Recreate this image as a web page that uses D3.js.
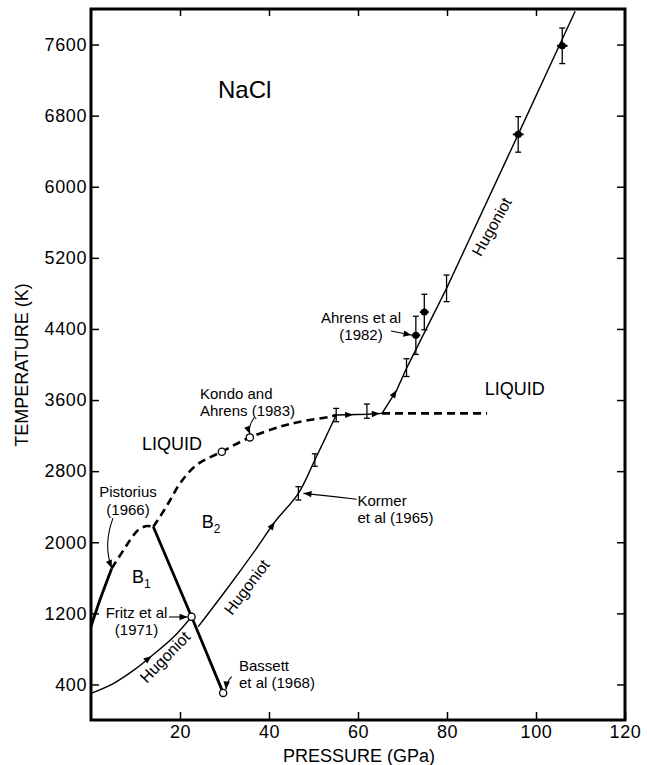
<!DOCTYPE html>
<html>
<head>
<meta charset="utf-8">
<script src="https://d3js.org/d3.v7.min.js"></script>
<style>
  body { margin: 0; background: #fff; }
  svg { display: block; font-family: 'Liberation Sans', Arial, sans-serif; }
</style>
</head>
<body>
<div id="chart"></div>
<script>
// NaCl phase diagram: pressure (GPa) vs temperature (K)

// melting curve of B1 (solid part up to Pistorius point, dashed beyond)
const meltB1 = [[0, 1050], [2, 1350], [4.65, 1706], [7.3, 1912], [8.8, 2025], [10.6, 2137], [12.5, 2182], [14, 2175]];
const meltB1SolidTo = 4.65;
// melting curve of B2 (dashed)
const meltB2 = [[14, 2175], [15.5, 2287], [17.8, 2475], [20, 2663], [23.7, 2869], [29.4, 3019], [35.7, 3180],
                [42.5, 3300], [47, 3356], [53.7, 3412], [55.1, 3431]];
const meltHigh = [[65.4, 3450], [89, 3450]];
// B1-B2 boundary
const phaseB1B2 = [[14, 2175], [22.6, 1162], [29.7, 305]];

// Hugoniot pieces
const hugB1 = [[0, 300], [5, 410], [10, 575], [13.6, 720], [18.5, 930], [22.6, 1162]];
const hugB2 = [[24.1, 1050], [31.2, 1519], [37.2, 1932], [41.3, 2228], [46.6, 2550], [50.3, 2925], [55.1, 3431]];
const hugMelt = [[55.1, 3431], [62, 3440], [65.4, 3450]];
const hugLiquid = [[65.4, 3450], [68.7, 3712], [70.9, 3957], [79.9, 4857], [96, 6589], [108.8, 7975]];
const hugArrows = [13.6, 41.3, 58.9, 64.9, 68.7];

// Kormer et al (1965) points with error bars
const kormerP = [46.6, 50.3, 55.1, 62, 70.9, 79.9];
const kormerT = [2550, 2925, 3431, 3475, 3965, 4857];
const kormerErr = [75, 70, 75, 80, 100, 150];

// Ahrens et al (1982)
const ahrensP = [73.0, 74.9, 96.0, 105.9];
const ahrensT = [4328, 4590, 6589, 7586];
const ahrensErr = [215, 200, 200, 200];
const ahrensPErr = [1, 1, 1.2, 1.2];

// open circles (Fritz, Bassett, Kondo & Ahrens)
const openPts = [[22.6, 1162], [29.7, 305], [29.4, 3019], [35.7, 3180]];

const xTicks = [20, 40, 60, 80, 100, 120];
const yTicks = [400, 1200, 2000, 2800, 3600, 4400, 5200, 6000, 6800, 7600];

const W = 647, H = 765;
const x = d3.scaleLinear().domain([0, 120]).range([91, 625]);
const y = d3.scaleLinear().domain([0, 8000]).range([720, 9]);

const svg = d3.select('#chart').append('svg')
    .attr('width', W)
    .attr('height', H);

svg.append('rect').attr('width', W).attr('height', H).attr('fill', '#fff');

// axes (ticks pointing inward)
svg.append('g').attr('transform', `translate(${x(0)},0)`)
    .call(d3.axisLeft(y).tickValues(yTicks).tickFormat(d3.format('d'))
        .tickSizeInner(-8).tickSizeOuter(0).tickPadding(4));
svg.append('g').attr('transform', `translate(0,${y(0)})`)
    .call(d3.axisBottom(x).tickValues(xTicks).tickFormat(d3.format('d'))
        .tickSizeInner(-8).tickSizeOuter(0).tickPadding(5));
svg.append('g').attr('transform', `translate(0,${y(8000)})`)
    .call(d3.axisTop(x).tickValues(xTicks.slice(0, 5)).tickSizeInner(-7).tickSizeOuter(0).tickFormat(''));
svg.append('g').attr('transform', `translate(${x(120)},0)`)
    .call(d3.axisRight(y).tickValues(yTicks).tickSizeInner(-8).tickSizeOuter(0).tickFormat(''));

svg.selectAll('.domain').remove();
svg.selectAll('.tick line').attr('stroke', '#000').attr('stroke-width', 1.5);
svg.selectAll('.tick text')
    .attr('fill', '#000')
    .style('font-size', '18px')
    .style('font-family', "'Liberation Sans', Arial, sans-serif")
    .style('letter-spacing', '0.6px');

// frame
svg.append('rect')
    .attr('x', x(0)).attr('y', y(8000))
    .attr('width', x(120) - x(0)).attr('height', y(0) - y(8000))
    .attr('fill', 'none').attr('stroke', '#000').attr('stroke-width', 3);

// axis titles
svg.append('text')
    .attr('x', (x(0) + x(120)) / 2 + 1).attr('y', 762)
    .attr('text-anchor', 'middle')
    .style('font-size', '18px')
    .text('PRESSURE (GPa)');
svg.append('text')
    .attr('transform', `translate(28,${365}) rotate(-90)`)
    .attr('text-anchor', 'middle')
    .style('font-size', '18px')
    .text('TEMPERATURE (K)');

const plot = svg.append('g');
const smooth = d3.line().x(d => x(d[0])).y(d => y(d[1])).curve(d3.curveCatmullRom.alpha(0.5));
const straight = d3.line().x(d => x(d[0])).y(d => y(d[1]));

// melting curves
plot.append('path').attr('d', smooth(meltB1.filter(d => d[0] <= meltB1SolidTo)))
    .attr('fill', 'none').attr('stroke', '#000').attr('stroke-width', 2.8);
plot.append('path').attr('d', smooth(meltB1.filter(d => d[0] >= meltB1SolidTo)))
    .attr('fill', 'none').attr('stroke', '#000').attr('stroke-width', 2.6).attr('stroke-dasharray', '8,5');
plot.append('path').attr('d', smooth(meltB2))
    .attr('fill', 'none').attr('stroke', '#000').attr('stroke-width', 2.6).attr('stroke-dasharray', '8,5');
plot.append('path').attr('d', straight(meltHigh))
    .attr('fill', 'none').attr('stroke', '#000').attr('stroke-width', 2.6).attr('stroke-dasharray', '8,5');

// B1-B2 boundary
plot.append('path').attr('d', straight(phaseB1B2))
    .attr('fill', 'none').attr('stroke', '#000').attr('stroke-width', 2.8);

// Hugoniot
[[hugB1, smooth], [hugB2, smooth], [hugMelt, straight], [hugLiquid, straight]].forEach(([pts, gen]) => {
    plot.append('path').attr('d', gen(pts))
        .attr('fill', 'none').attr('stroke', '#000').attr('stroke-width', 1.4);
});

function arrowHead(g, px, py, ang) {
    g.append('path')
        .attr('d', 'M0,0 L-8,-3.2 L-8,3.2 Z')
        .attr('transform', `translate(${px},${py}) rotate(${ang * 180 / Math.PI})`)
        .attr('fill', '#000');
}

// arrows along Hugoniot
const hugAll = hugB1.concat(hugB2, hugMelt.slice(1), hugLiquid.slice(1));
hugArrows.forEach(p => {
    for (let i = 0; i < hugAll.length - 1; i++) {
        const a = hugAll[i], b = hugAll[i + 1];
        if (p >= a[0] && p <= b[0]) {
            const f = (p - a[0]) / (b[0] - a[0]);
            const ax = x(a[0]), ay = y(a[1]), bx = x(b[0]), by = y(b[1]);
            arrowHead(plot, ax + f * (bx - ax), ay + f * (by - ay), Math.atan2(by - ay, bx - ax));
            break;
        }
    }
});

// error bar helper
function vBar(g, p, t, e, cap) {
    g.append('line').attr('x1', x(p)).attr('x2', x(p)).attr('y1', y(t - e)).attr('y2', y(t + e))
        .attr('stroke', '#000').attr('stroke-width', 1.3);
    [t - e, t + e].forEach(v => {
        g.append('line').attr('x1', x(p) - cap).attr('x2', x(p) + cap).attr('y1', y(v)).attr('y2', y(v))
            .attr('stroke', '#000').attr('stroke-width', 1.3);
    });
}

kormerP.forEach((p, i) => vBar(plot, p, kormerT[i], kormerErr[i], 3));

ahrensP.forEach((p, i) => {
    vBar(plot, p, ahrensT[i], ahrensErr[i], 3);
    plot.append('line')
        .attr('x1', x(p - ahrensPErr[i])).attr('x2', x(p + ahrensPErr[i]))
        .attr('y1', y(ahrensT[i])).attr('y2', y(ahrensT[i]))
        .attr('stroke', '#000').attr('stroke-width', 2);
    plot.append('circle').attr('cx', x(p)).attr('cy', y(ahrensT[i])).attr('r', 3.6).attr('fill', '#000');
});

plot.selectAll('.open').data(openPts).enter().append('circle')
    .attr('class', 'open')
    .attr('cx', d => x(d[0])).attr('cy', d => y(d[1])).attr('r', 3.6)
    .attr('fill', '#fff').attr('stroke', '#000').attr('stroke-width', 1.3);

// leader lines for citations: start, control, tip (data units)
const leaders = [
    [[4.94, 2272], [2.7, 1969], [4.65, 1710]],     // Pistorius
    [[36.63, 3401], [35.17, 3291], [35.73, 3218]], // Kondo and Ahrens
    [[17.53, 1159], [19.6, 1159], [21.69, 1159]],  // Fritz
    [[31.62, 487], [30.49, 431], [30.34, 343]],    // Bassett
    [[67.42, 4376], [69.66, 4354], [72.02, 4331]], // Ahrens 1982
    [[59.71, 2483], [53.7, 2520], [47.75, 2550]]   // Kormer
];
leaders.forEach(([s, c, e]) => {
    const sx = x(s[0]), sy = y(s[1]), cx = x(c[0]), cy = y(c[1]), ex = x(e[0]), ey = y(e[1]);
    plot.append('path').attr('d', `M${sx},${sy} Q${cx},${cy} ${ex},${ey}`)
        .attr('fill', 'none').attr('stroke', '#000').attr('stroke-width', 1.1);
    arrowHead(plot, ex, ey, Math.atan2(ey - cy, ex - cx));
});

// text labels: [lines, P, T (first baseline), anchor, size, line gap px]
const notes = [
    [['NaCl'], 28.54, 6997, 'start', 24, 0],
    [['LIQUID'], 11.46, 3037, 'start', 18, 0],
    [['LIQUID'], 88.5, 3656, 'start', 18, 0],
    [['Pistorius', '(1966)'], 8.31, 2509, 'middle', 15, 18],
    [['Kondo and', 'Ahrens (1983)'], 24.49, 3611, 'start', 15, 17],
    [['Fritz et al', '(1971)'], 10.22, 1147, 'middle', 15, 17],
    [['Bassett', 'et al (1968)'], 33.26, 546, 'start', 15, 17],
    [['Ahrens et al', '(1982)'], 60.67, 4472, 'middle', 15, 17],
    [['Kormer', 'et al (1965)'], 59.89, 2407, 'start', 15, 17]
];
notes.forEach(([lines, p, t, anchor, size, gap]) => {
    const tx = plot.append('text').attr('x', x(p)).attr('y', y(t))
        .attr('text-anchor', anchor).style('font-size', size + 'px');
    lines.forEach((s, i) => {
        tx.append('tspan').attr('x', x(p)).attr('dy', i === 0 ? 0 : gap).text(s);
    });
});

// phase labels with subscripts
[['B', '1', 9.21, 1541], ['B', '2', 24.9, 2160]].forEach(([b, sub, p, t]) => {
    const tx = plot.append('text').attr('x', x(p)).attr('y', y(t)).style('font-size', '18px');
    tx.append('tspan').text(b);
    tx.append('tspan').attr('dy', 5).style('font-size', '12px').text(sub);
});

// rotated Hugoniot labels: [P, T, angle]
const hugLabels = [[16.63, 709, -46], [34.99, 1496, -53], [90.04, 5550, -60.6]];
hugLabels.forEach(([p, t, a]) => {
    plot.append('text')
        .attr('transform', `translate(${x(p)},${y(t)}) rotate(${a})`)
        .attr('text-anchor', 'middle').attr('dy', '0.35em')
        .style('font-size', '16px')
        .text('Hugoniot');
});
</script>
</body>
</html>
